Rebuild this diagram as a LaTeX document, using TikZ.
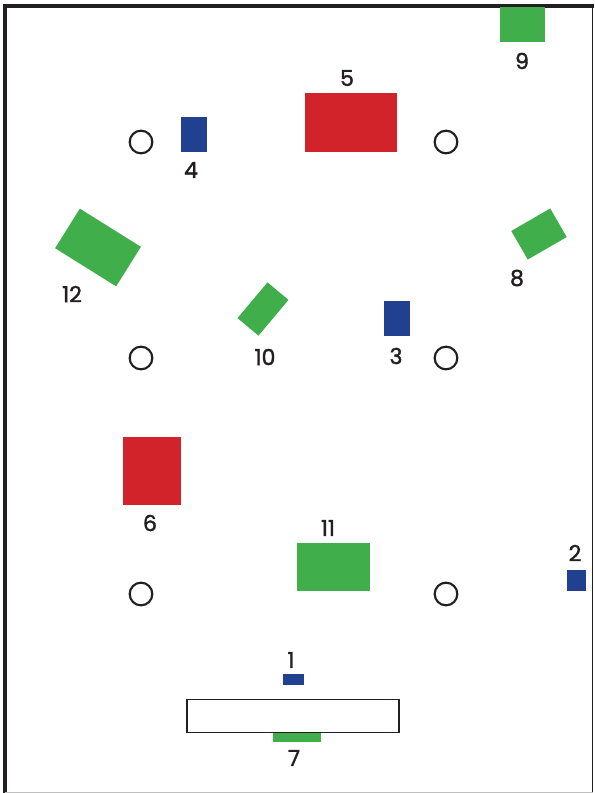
\documentclass[tikz,border=0pt]{standalone}
\usepackage{fontspec}
\setmainfont{Poppins}[FakeBold=1.6]
\definecolor{fgreen}{RGB}{64,174,74}
\definecolor{fred}{RGB}{211,35,42}
\definecolor{fblue}{RGB}{33,64,143}
\definecolor{frame}{RGB}{35,31,32}
\begin{document}
\begin{tikzpicture}[x=0.75pt,y=-0.75pt,
  blk/.style={inner sep=0pt,outer sep=0pt,rectangle},
  gblk/.style={blk,fill=fgreen},
  rblk/.style={blk,fill=fred},
  bblk/.style={blk,fill=fblue},
  post/.style={circle,draw=frame,line width=1.6pt,minimum size=17pt,inner sep=0pt},
  lbl/.style={font=\fontsize{16.5}{18}\selectfont,text=frame,inner sep=0pt}]
\useasboundingbox (0,0) rectangle (594,793);
\fill[white] (0,0) rectangle (594,793);
% frame
\draw[frame,line width=3pt] (4.5,793) -- (4.5,5.5) -- (594,5.5);
\draw[frame,line width=0.9pt] (592.5,5.5) -- (592.5,793);
\draw[black!25,line width=0.8pt] (4.5,792.3) -- (592.5,792.3);
% posts
\node[post] (c1) at (141,142) {};
\node[post] (c2) at (446,142) {};
\node[post] (c3) at (141,358) {};
\node[post] (c4) at (446,358) {};
\node[post] (c5) at (141,594) {};
\node[post] (c6) at (446,594) {};
% blocks
\node[bblk,minimum width=19.5pt,minimum height=26.25pt] (b4) at (194,134.5) {};
\node[rblk,minimum width=69pt,minimum height=44.25pt] (b5) at (351,122.5) {};
\node[gblk,minimum width=33.75pt,minimum height=26.25pt] (b9) at (522,24.5) {};
\node[gblk,minimum width=54pt,minimum height=35pt,rotate=-32] (b12) at (98,247.5) {};
\node[gblk,minimum width=20.5pt,minimum height=35pt,rotate=-40] (b10) at (263,309) {};
\node[gblk,minimum width=33.75pt,minimum height=24.75pt,rotate=30] (b8) at (539,234) {};
\node[bblk,minimum width=19.5pt,minimum height=26.25pt] (b3) at (397,318.5) {};
\node[rblk,minimum width=43.5pt,minimum height=51pt] (b6) at (152,471) {};
\node[gblk,minimum width=54.75pt,minimum height=36pt] (b11) at (333.5,567) {};
\node[bblk,minimum width=14.5pt,minimum height=15.75pt] (b2) at (576.5,580.5) {};
\node[bblk,minimum width=16pt,minimum height=8.25pt] (b1) at (293.3,679.5) {};
\node[blk,draw=frame,line width=1.3pt,minimum width=159.5pt,minimum height=24.75pt] (bx) at (293,716) {};
\node[gblk,minimum width=35.5pt,minimum height=6.3pt] (b7) at (297,737.5) {};
% labels
\node[lbl] (l1) at (291,660) {1};
\node[lbl] (l2) at (575,553) {2};
\node[lbl] (l3) at (396,356) {3};
\node[lbl] (l4) at (191,170) {4};
\node[lbl] (l5) at (347,78) {5};
\node[lbl] (l6) at (150,523) {6};
\node[lbl] (l7) at (294,758) {7};
\node[lbl] (l8) at (517,278) {8};
\node[lbl] (l9) at (522,61) {9};
\node[lbl] (l10) at (265,357) {10};
\node[lbl] (l11) at (328,528) {11};
\node[lbl] (l12) at (72,294) {12};
\end{tikzpicture}
\end{document}
